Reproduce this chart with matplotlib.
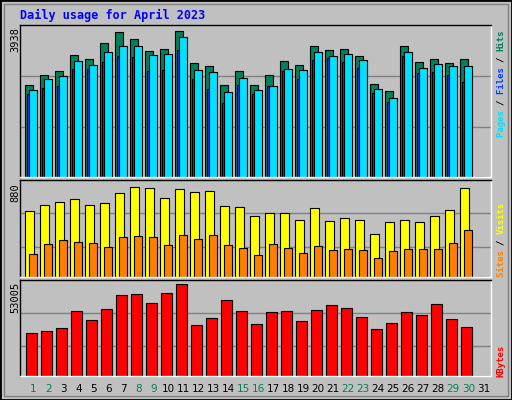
import matplotlib
matplotlib.use("Agg")
import matplotlib.pyplot as plt
from matplotlib.patches import Rectangle

days = list(range(1, 32))
weekend = [1, 2, 8, 9, 15, 16, 22, 23, 29, 30]

hits = [2377, 2634, 2737, 3149, 3046, 3483, 3767, 3586, 3252, 3329, 3792, 2943, 2866, 2377, 2737,
        2377, 2634, 2994, 2891, 3406, 3278, 3329, 3123, 2402, 2222, 3381, 2969, 3046, 2943, 3046, 0]
pages = [2248, 2531, 2608, 2994, 2891, 3226, 3406, 3381, 3149, 3175, 3638, 2763, 2711, 2196, 2557,
         2248, 2351, 2789, 2763, 3226, 3123, 3175, 3020, 2274, 2042, 3226, 2814, 2917, 2866, 2866, 0]
files = [2145, 2299, 2351, 2789, 2789, 2969, 3123, 3097, 2737, 2763, 3303, 2531, 2274, 1913, 2377,
         2145, 2351, 2737, 2531, 3020, 3072, 2969, 2814, 2171, 1939, 3123, 2686, 2711, 2634, 2454, 0]
visits = [596, 649, 684, 711, 649, 667, 764, 818, 809, 720, 800, 773, 782, 640, 631,
          551, 578, 578, 516, 622, 507, 533, 516, 391, 498, 516, 498, 551, 604, 809, 0]
sites = [213, 302, 338, 320, 311, 276, 364, 373, 364, 293, 382, 347, 382, 293, 267,
         196, 302, 267, 222, 284, 249, 258, 249, 169, 240, 258, 258, 258, 311, 427, 0]
kbytes = [23622, 24738, 26411, 35898, 30876, 37014, 44826, 45384, 40362, 45942, 50964, 28086, 31992,
          42036, 35898, 28644, 35340, 35898, 30318, 36456, 39246, 37572, 32550, 25854, 29202, 35340,
          33666, 39804, 31434, 26970, 0]

W, H = 512, 400
BG = "#c0c0c0"
C_HITS, C_FILES, C_PAGES = "#00805c", "#0040ff", "#00e0ff"
C_VISITS, C_SITES, C_KB = "#ffff00", "#ff8000", "#ff0000"
MONO = "DejaVu Sans Mono"

fig = plt.figure(figsize=(W / 100, H / 100), dpi=100, facecolor=BG)
fig.patches.append(Rectangle((0, 0), 1, 1, transform=fig.transFigure, fill=False,
                             edgecolor="black", linewidth=2))
fig.patches.append(Rectangle((4 / W, 4 / H), 1 - 8 / W, 1 - 8 / H, transform=fig.transFigure,
                             fill=False, edgecolor="#808080", linewidth=1))


def px_axes(x0, y0, x1, y1):
    ax = fig.add_axes([x0 / W, 1 - y1 / H, (x1 - x0) / W, (y1 - y0) / H])
    ax.set_facecolor(BG)
    ax.set_xlim(-1 / 3, 31.07)
    ax.set_xticks([])
    ax.set_yticks([])
    for s in ax.spines.values():
        s.set_color("black")
        s.set_linewidth(1)
    ax.spines["right"].set_color("white")
    ax.spines["bottom"].set_color("white")
    return ax


def grids(ax, fr):
    for f in fr:
        ax.axhline(ax.get_ylim()[1] * f, color="#808080", linewidth=1, zorder=0)


x = [d - 1 for d in days]
kw = dict(align="edge", edgecolor="black", linewidth=0.8)

# top panel
ax1 = px_axes(20, 25, 491, 177)
ax1.set_ylim(0, 3938)
grids(ax1, [0.326, 0.663])
ax1.bar(x, hits, width=0.51, color=C_HITS, **kw)
ax1.bar([v + 0.13 for v in x], files, width=0.18, color=C_FILES, **kw)
ax1.bar([v + 0.29 for v in x], pages, width=0.49, color=C_PAGES, **kw)

# middle panel
ax2 = px_axes(20, 180, 491, 277)
ax2.set_ylim(0, 880)
grids(ax2, [0.3125, 0.656])
ax2.bar(x, visits, width=0.58, color=C_VISITS, **kw)
ax2.bar([v + 0.27 for v in x], sites, width=0.51, color=C_SITES, **kw)

# bottom panel
ax3 = px_axes(20, 280, 491, 376)
ax3.set_ylim(0, 53005)
grids(ax3, [0.31, 0.657])
ax3.bar([v + 0.07 for v in x], kbytes, width=0.71, color=C_KB, **kw)

# day labels
for d in days:
    fx = (25 + (d - 1) * 15 + 8.3) / W
    fig.text(fx, 1 - 389 / H, str(d), ha="center", va="center", fontsize=7.5,
             color=C_HITS if d in weekend else "black")

fig.text(20 / W, 1 - 15 / H, "Daily usage for April 2023", color="#0000ff",
         fontsize=8.5, fontweight="bold", family=MONO, va="center")

# left max labels
for top, lab in [(27, "3938"), (183, "880"), (282, "53005")]:
    fig.text(15 / W, 1 - top / H, lab, rotation=90, ha="center", va="top",
             fontsize=7.5, family=MONO)


def side_label(bottom, parts):
    y = bottom
    for txt, col in parts:
        fig.text(501 / W, 1 - y / H, txt, rotation=90, ha="center", va="bottom",
                 fontsize=6.5, family=MONO, fontweight="bold", color=col)
        y -= 5.35 * len(txt)


side_label(137, [("Pages ", C_PAGES), ("/ ", "black"), ("Files ", C_FILES),
                 ("/ ", "black"), ("Hits", C_HITS)])
side_label(277, [("Sites ", C_SITES), ("/ ", "black"), ("Visits", C_VISITS)])
side_label(377, [("KBytes", C_KB)])

fig.savefig("out.png", dpi=100, facecolor=BG)
